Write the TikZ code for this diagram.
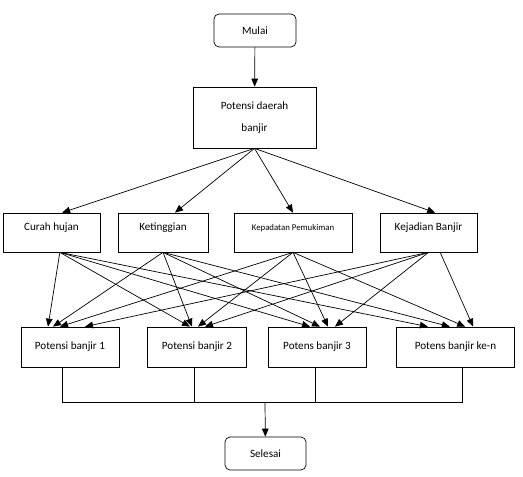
\documentclass[tikz,border=0pt]{standalone}
\usepackage{fontspec}
\setmainfont{Carlito}
\usetikzlibrary{positioning,arrows.meta}

\tikzset{
  box/.style={draw, line width=0.6pt, minimum height=1.2cm, inner sep=2pt, font=\fontsize{9.5}{11}\selectfont},
  endbox/.style={box, rounded corners=1.5mm, minimum height=0.99cm},
  topbox/.style={box, minimum height=1.17cm, text height=0.22cm, text depth=0.32cm},
  arr/.style={-{Triangle[length=2.4mm,width=2mm]}, line width=0.6pt},
  ln/.style={line width=0.6pt}
}

\begin{document}
\begin{tikzpicture}[x=0.03cm, y=-0.03cm]
  \useasboundingbox (0,0) rectangle (523,477);
  \node [endbox, minimum width=2.46cm] (mulai) at (255,30.5) {Mulai};
  \node [box, minimum width=3.69cm, minimum height=1.83cm, align=center, font=\fontsize{9.5}{18.5}\selectfont] (daerah) at (254.5,117.5) {Potensi daerah\\banjir};

  \node [topbox, minimum width=2.91cm] (curah) at (51.5,232.5) {Curah hujan};
  \node [topbox, minimum width=2.70cm] (tinggi) at (163,232.5) {Ketinggian};
  \node [topbox, minimum width=3.54cm, font=\fontsize{7.5}{9}\selectfont] (padat) at (293,232.5) {Kepadatan Pemukiman};
  \node [topbox, minimum width=2.91cm] (kejadian) at (428.5,232.5) {Kejadian Banjir};

  \node [box, minimum width=2.94cm] (pot1) at (70,347) {Potensi banjir 1};
  \node [box, minimum width=2.97cm] (pot2) at (197,347) {Potensi banjir 2};
  \node [box, minimum width=2.94cm] (pot3) at (317,347) {Potens banjir 3};
  \node [box, minimum width=3.54cm] (potn) at (455.5,347) {Potens banjir ke-n};

  \node [endbox, minimum width=2.43cm] (selesai) at (265.5,453.5) {Selesai};
  \coordinate (gabung) at (265,402);

  \draw [arr] (mulai) -- (daerah);
  \path [arr] (daerah.south) edge ([xshift=0.32cm]curah.north) edge ([xshift=0.36cm]tinggi.north)
    edge (padat.north) edge ([xshift=0.2cm]kejadian.north);

  \path [arr] ([xshift=0.25cm]curah.south) edge ([xshift=-0.66cm]pot1.north) edge ([xshift=-0.21cm]pot2.north)
    edge ([xshift=-0.21cm]pot3.north) edge ([xshift=-0.83cm]potn.north);
  \path [arr] (tinggi.south) edge ([xshift=-0.51cm]pot1.north) edge ([xshift=-0.15cm]pot2.north)
    edge ([xshift=0.09cm]pot3.north) edge ([xshift=-0.17cm]potn.north);
  \path [arr] (padat.south) edge ([xshift=-0.3cm]pot1.north) edge ([xshift=0.03cm]pot2.north)
    edge ([xshift=0.33cm]pot3.north) edge ([xshift=0.29cm]potn.north);
  \path [arr] (kejadian.south) edge ([xshift=0.45cm]pot1.north) edge ([xshift=0.24cm]pot2.north)
    edge ([xshift=0.54cm]pot3.north);
  \draw [arr] ([xshift=0.35cm]kejadian.south) -- ([xshift=0.53cm]potn.north);

  \draw [ln] ([xshift=-0.24cm]pot1.south) |- (gabung);
  \draw [ln] ([xshift=-0.09cm]pot2.south) |- (gabung);
  \draw [ln] ([xshift=-0.06cm]pot3.south) |- (gabung);
  \draw [ln] ([xshift=0.2cm]potn.south) |- (gabung);
  \draw [arr] (gabung) -- (selesai);
\end{tikzpicture}
\end{document}
